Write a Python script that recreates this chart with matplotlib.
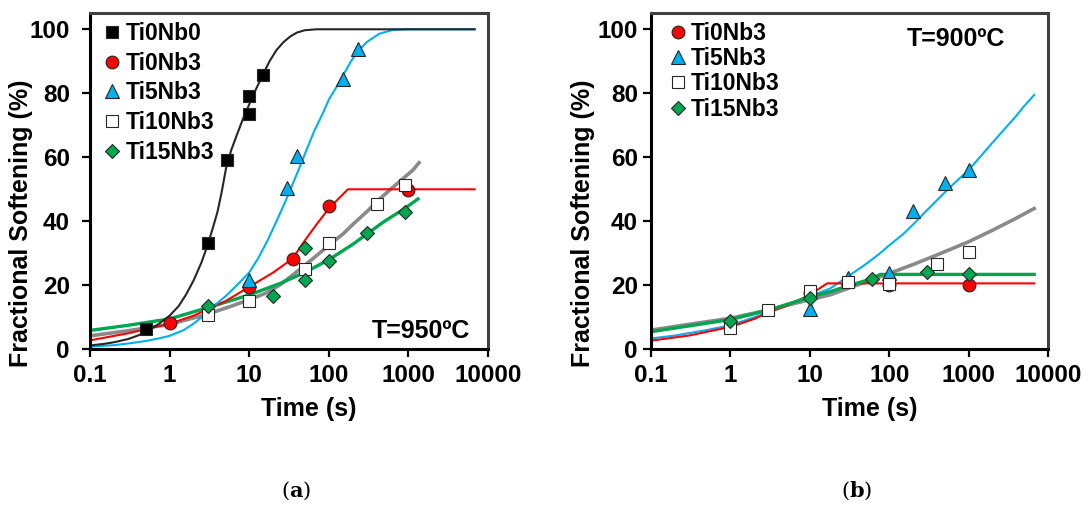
import numpy as np
import matplotlib

matplotlib.use("Agg")
import matplotlib.pyplot as plt

plt.rcParams["font.family"] = ["Liberation Sans", "DejaVu Sans"]
plt.rcParams["font.weight"] = "bold"
plt.rcParams["mathtext.fontset"] = "dejavuserif"

# ---- panel (a) T=950ºC : measured points ----
a_ti0nb0_t = [0.5, 3, 5.2, 10, 10, 15]
a_ti0nb0_y = [6.3, 33.3, 59.2, 73.4, 79.0, 85.6]
a_ti0nb3_t = [1, 10, 35, 100, 1000]
a_ti0nb3_y = [8.1, 19.4, 28.1, 44.8, 49.8]
a_ti5nb3_t = [10, 30, 40, 150, 230]
a_ti5nb3_y = [21.8, 50.3, 60.4, 84.4, 93.8]
a_ti10nb3_t = [3, 10, 50, 100, 400, 900]
a_ti10nb3_y = [10.7, 15.2, 25.0, 33.1, 45.4, 51.4]
a_ti15nb3_t = [3, 20, 50, 50, 100, 300, 900]
a_ti15nb3_y = [13.5, 16.7, 31.6, 21.7, 27.7, 36.2, 43.0]

# ---- panel (a) fitted curves ----
a_fit_ti0nb0_t = [0.1, 0.15, 0.2, 0.3, 0.4, 0.5, 0.7, 1, 1.3, 1.6, 2, 2.5, 3, 3.5, 4, 4.5,
                  5.2, 6, 7, 8.5, 10, 12, 15, 18, 22, 27, 33, 40, 50, 70, 6800]
a_fit_ti0nb0_y = [1.2, 1.7, 2.2, 3.2, 4.3, 5.5, 7.6, 10.5, 13.5, 17.0, 21.5, 27.0, 32.5, 38.0, 43.0, 49.0,
                  57.5, 62.5, 67.0, 72.5, 76.5, 81.0, 86.0, 90.0, 93.5, 96.0, 97.8, 99.0, 99.7, 100, 100]
a_fit_ti0nb3_t = [0.1, 0.3, 1, 2, 3, 5, 10, 20, 35, 50, 70, 100, 174, 6800]
a_fit_ti0nb3_y = [2.8, 5.0, 8.0, 10.5, 12.5, 15.0, 19.5, 24.0, 28.3, 34.0, 39.0, 44.0, 50.0, 50.0]
a_fit_ti5nb3_t = [0.1, 0.2, 0.3, 0.5, 0.7, 1, 1.5, 2, 3, 4, 5, 7, 10, 13, 17, 22, 30, 40, 50,
                  65, 85, 100, 125, 150, 190, 230, 300, 430, 640, 1000, 6800]
a_fit_ti5nb3_y = [0.8, 1.3, 1.8, 2.6, 3.3, 4.2, 6.0, 8.0, 11.5, 14.5, 16.5, 20.0, 24.0, 28.5, 34.0, 40.0, 47.5, 55.0, 61.0,
                  68.0, 74.0, 78.0, 82.0, 85.5, 90.0, 93.0, 96.0, 98.6, 99.8, 100, 100]
a_fit_ti10nb3_t = [0.1, 0.3, 1, 3, 6, 10, 16, 24, 40, 63, 100, 150, 200, 300, 436, 700, 1140, 1360]
a_fit_ti10nb3_y = [4.2, 5.8, 7.8, 11.0, 13.5, 15.5, 17.5, 20.0, 24.3, 28.3, 32.5, 36.0, 39.0, 43.0, 47.0, 51.5, 56.0, 58.3]
a_fit_ti15nb3_t = [0.1, 0.3, 1, 3, 6, 10, 24, 50, 100, 200, 300, 500, 900, 1320]
a_fit_ti15nb3_y = [5.9, 7.5, 9.5, 13.0, 15.3, 17.0, 20.5, 24.0, 28.0, 32.8, 36.0, 40.0, 44.0, 47.0]

# ---- panel (b) T=900ºC : measured points ----
b_ti0nb3_t = [10, 100, 1000]
b_ti0nb3_y = [17.5, 20.1, 20.0]
b_ti5nb3_t = [10, 30, 100, 200, 500, 1000]
b_ti5nb3_y = [12.5, 22.2, 23.7, 43.2, 52.1, 56.0]
b_ti10nb3_t = [1, 3, 10, 30, 100, 400, 1000]
b_ti10nb3_y = [6.6, 12.3, 18.3, 21.1, 20.4, 26.7, 30.5]
b_ti15nb3_t = [1, 10, 60, 300, 1000]
b_ti15nb3_y = [8.9, 16.1, 21.9, 24.3, 23.4]

# ---- panel (b) fitted curves ----
b_fit_ti0nb3_t = [0.1, 0.3, 1, 2, 3, 5, 10, 16.5, 6700]
b_fit_ti0nb3_y = [2.7, 4.3, 7.0, 9.5, 11.5, 13.5, 17.0, 20.6, 20.6]
b_fit_ti5nb3_t = [0.1, 0.2, 0.5, 1, 2, 3, 5, 10, 18, 30, 50, 75, 100, 150, 200, 300, 500, 700,
                  1000, 1500, 2000, 3000, 4000, 5000, 6700]
b_fit_ti5nb3_y = [3.4, 4.3, 6.0, 7.5, 10.0, 11.5, 13.8, 16.5, 19.0, 22.7, 26.5, 29.8, 32.5, 36.0, 39.0, 43.5, 49.0, 52.5,
                  56.0, 61.0, 64.6, 69.5, 73.0, 76.0, 79.5]
b_fit_ti10nb3_t = [0.1, 0.3, 1, 3, 10, 18, 30, 50, 100, 200, 400, 1000, 2000, 4000, 6700]
b_fit_ti10nb3_y = [6.0, 7.8, 9.7, 12.3, 15.5, 17.0, 19.0, 21.0, 23.7, 26.5, 29.5, 33.6, 37.2, 41.0, 44.0]
b_fit_ti15nb3_t = [0.1, 0.3, 1, 3, 10, 18, 30, 60, 77, 6700]
b_fit_ti15nb3_y = [5.5, 7.3, 9.3, 12.2, 16.3, 18.0, 19.8, 22.0, 23.4, 23.4]

x_ticks = [0.1, 1, 10, 100, 1000, 10000]
x_tick_labels = ["0.1", "1", "10", "100", "1000", "10000"]
y_ticks = [0, 20, 40, 60, 80, 100]

RED = "#FF0000"
BLUE = "#00B0F0"
GREEN = "#00A650"
GRAY = "#8A8A8A"
BLACK = "#262626"
EDGE = "#262626"

STYLE = {
    "Ti0Nb0": dict(marker="s", color="black", ms=9.0),
    "Ti0Nb3": dict(marker="o", color=RED, ms=9.2),
    "Ti5Nb3": dict(marker="^", color=BLUE, ms=10.5),
    "Ti10Nb3": dict(marker="s", color="white", ms=8.6),
    "Ti15Nb3": dict(marker="D", color=GREEN, ms=6.9),
}


def setup_axes(ax, ytick_pad):
    ax.set_xscale("log")
    ax.set_xlim(0.1, 10000)
    ax.set_ylim(0, 105)
    ax.set_xticks(x_ticks)
    ax.set_xticklabels(x_tick_labels)
    ax.minorticks_off()
    ax.set_yticks(y_ticks)
    ax.tick_params(axis="both", direction="out", length=5.5, width=1.6,
                   labelsize=17.5, color="black")
    ax.tick_params(axis="y", pad=ytick_pad)
    ax.tick_params(axis="x", pad=5)
    for lab in ax.get_xticklabels() + ax.get_yticklabels():
        lab.set_fontweight("bold")
    for side in ["left", "bottom"]:
        ax.spines[side].set_linewidth(2.2)
        ax.spines[side].set_color("black")
    for side in ["top", "right"]:
        ax.spines[side].set_linewidth(2.2)
        ax.spines[side].set_color("#404040")
    ax.set_xlabel("Time (s)", fontsize=18, fontweight="bold")
    ax.set_ylabel("Fractional Softening (%)", fontsize=18, fontweight="bold")
    ax.xaxis.set_label_coords(0.55, -0.142)
    ax.yaxis.set_label_coords(-0.142, 0.376)


def draw_points(ax, name, t, y):
    st = STYLE[name]
    ax.plot(t, y, ls="none", marker=st["marker"], ms=st["ms"],
            markerfacecolor=st["color"], markeredgecolor=EDGE,
            markeredgewidth=0.8, label=name, zorder=4)


def main():
    fig = plt.figure(figsize=(10.89, 5.05), dpi=100)
    ax_a = fig.add_axes([90 / 1089, 0.3083, 398 / 1089, 0.6654])
    ax_b = fig.add_axes([651 / 1089, 0.3083, 397 / 1089, 0.6654])

    # panel (a)
    setup_axes(ax_a, ytick_pad=9)
    ax_a.plot(a_fit_ti10nb3_t, a_fit_ti10nb3_y, color=GRAY, lw=2.6, zorder=2)
    ax_a.plot(a_fit_ti15nb3_t, a_fit_ti15nb3_y, color=GREEN, lw=2.4, zorder=2)
    ax_a.plot(a_fit_ti0nb3_t, a_fit_ti0nb3_y, color=RED, lw=1.5, zorder=2)
    ax_a.plot(a_fit_ti5nb3_t, a_fit_ti5nb3_y, color=BLUE, lw=1.5, zorder=2)
    ax_a.plot(a_fit_ti0nb0_t, a_fit_ti0nb0_y, color=BLACK, lw=1.5, zorder=2)

    draw_points(ax_a, "Ti0Nb0", a_ti0nb0_t, a_ti0nb0_y)
    draw_points(ax_a, "Ti0Nb3", a_ti0nb3_t, a_ti0nb3_y)
    draw_points(ax_a, "Ti5Nb3", a_ti5nb3_t, a_ti5nb3_y)
    draw_points(ax_a, "Ti10Nb3", a_ti10nb3_t, a_ti10nb3_y)
    draw_points(ax_a, "Ti15Nb3", a_ti15nb3_t, a_ti15nb3_y)

    ax_a.legend(loc="upper left", bbox_to_anchor=(0.030, 0.975), frameon=False,
                borderpad=0, borderaxespad=0, handlelength=0.9,
                handletextpad=0.15, labelspacing=0.30,
                prop={"size": 16.5, "weight": "bold"})
    ax_a.text(0.955, 0.033, "T=950ºC", transform=ax_a.transAxes,
              ha="right", va="baseline", fontsize=18, fontweight="bold")

    # panel (b)
    setup_axes(ax_b, ytick_pad=4)
    ax_b.plot(b_fit_ti10nb3_t, b_fit_ti10nb3_y, color=GRAY, lw=2.6, zorder=2)
    ax_b.plot(b_fit_ti5nb3_t, b_fit_ti5nb3_y, color=BLUE, lw=1.5, zorder=2)
    ax_b.plot(b_fit_ti0nb3_t, b_fit_ti0nb3_y, color=RED, lw=1.5, zorder=2)
    ax_b.plot(b_fit_ti15nb3_t, b_fit_ti15nb3_y, color=GREEN, lw=2.4, zorder=2)

    draw_points(ax_b, "Ti0Nb3", b_ti0nb3_t, b_ti0nb3_y)
    draw_points(ax_b, "Ti5Nb3", b_ti5nb3_t, b_ti5nb3_y)
    draw_points(ax_b, "Ti10Nb3", b_ti10nb3_t, b_ti10nb3_y)
    draw_points(ax_b, "Ti15Nb3", b_ti15nb3_t, b_ti15nb3_y)

    ax_b.legend(loc="upper left", bbox_to_anchor=(0.042, 0.975), frameon=False,
                borderpad=0, borderaxespad=0, handlelength=0.9,
                handletextpad=0.1, labelspacing=0.10,
                prop={"size": 16.5, "weight": "bold"})
    ax_b.text(0.892, 0.903, "T=900ºC", transform=ax_b.transAxes,
              ha="right", va="baseline", fontsize=18, fontweight="bold")

    # captions
    fig.text(296 / 1089, 1 - 491 / 505, r"($\mathbf{a}$)", ha="center", va="center",
             fontsize=15, family="DejaVu Serif", fontweight="normal")
    fig.text(857 / 1089, 1 - 491 / 505, r"($\mathbf{b}$)", ha="center", va="center",
             fontsize=15, family="DejaVu Serif", fontweight="normal")

    fig.savefig("out.png", dpi=100, facecolor="white")
    plt.close(fig)


if __name__ == "__main__":
    main()
